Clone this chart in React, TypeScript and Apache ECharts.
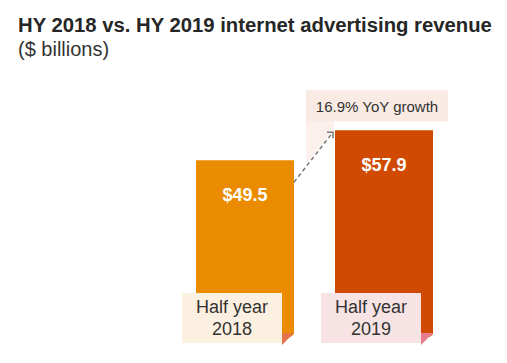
import React, { useEffect, useRef } from "react";
import * as echarts from "echarts";

const categories = ["Half year\n2018", "Half year\n2019"];
const revenue = [49.5, 57.9];
const valueLabels = ["$49.5", "$57.9"];
const barColors = ["#eb8c00", "#d04a02"];
const boxColors = ["#fcf0e1", "#f7e3e4"];
const foldColors = ["#e4734a", "#e77d8c"];
const growthLabel = "16.9% YoY growth";
const titleText = "HY 2018 vs. HY 2019 internet advertising revenue";
const subtitleText = "($ billions)";

const FONT = "'Liberation Sans', Arial, Helvetica, sans-serif";

export default function App() {
  const ref = useRef<HTMLDivElement>(null);
  useEffect(() => {
    if (!ref.current) return;
    const chart = echarts.init(ref.current, undefined, { renderer: "svg" });
    chart.setOption({
      animation: false,
      backgroundColor: "#ffffff",
      grid: { left: 175.5, right: 53.5, top: 87, bottom: 26, containLabel: false },
      xAxis: {
        type: "category",
        data: categories,
        show: false,
      },
      yAxis: { type: "value", min: 0, max: 70, show: false },
      graphic: [
        {
          type: "text",
          left: 18,
          top: 15,
          style: {
            text: titleText,
            font: `bold 20.3px ${FONT}`,
            fill: "#262626",
          },
        },
        {
          type: "text",
          left: 18,
          top: 39,
          style: {
            text: subtitleText,
            font: `20px ${FONT}`,
            fill: "#333333",
          },
        },
      ],
      series: [
        {
          type: "bar",
          barWidth: 98,
          data: revenue.map((v, i) => ({ value: v, itemStyle: { color: barColors[i] } })),
          label: {
            show: true,
            position: ["50%", 35],
            align: "center",
            verticalAlign: "middle",
            formatter: (p: any) => valueLabels[p.dataIndex],
            color: "#ffffff",
            fontWeight: "bold",
            fontSize: 18,
            fontFamily: FONT,
          },
          z: 2,
        },
        {
          type: "custom",
          z: 3,
          data: categories.map((_, i) => [i, 0]),
          renderItem: (params: any, api: any) => {
            const i = params.dataIndex;
            const p = api.coord([api.value(0), 0]);
            const cx = p[0];
            const base = p[1];
            const left = cx - 63;
            const right = cx + 37;
            const top = base - 44;
            const bottom = base + 6;
            return {
              type: "group",
              children: [
                {
                  type: "polygon",
                  shape: { points: [[right + 13, base - 4], [right + 13, base + 9], [right - 1, base + 9]] },
                  style: { fill: "#ffffff" },
                },
                {
                  type: "polygon",
                  shape: { points: [[right, base - 4], [right + 12, base - 4], [right, base + 8]] },
                  style: { fill: foldColors[i] },
                },
                {
                  type: "rect",
                  shape: { x: left, y: top, width: right - left, height: bottom - top },
                  style: { fill: boxColors[i] },
                },
                {
                  type: "text",
                  x: (left + right) / 2,
                  y: (top + bottom) / 2,
                  style: {
                    text: categories[i],
                    align: "center",
                    verticalAlign: "middle",
                    fontSize: 18,
                    lineHeight: 22,
                    fontFamily: FONT,
                    fill: "#333333",
                  },
                },
              ],
            };
          },
        },
        {
          type: "custom",
          z: 4,
          data: [[0, revenue[0], 1, revenue[1]]],
          renderItem: (params: any, api: any) => {
            const a = api.coord([api.value(0), api.value(1)]);
            const b = api.coord([api.value(2), api.value(3)]);
            const halfW = 49;
            const x0 = a[0] + halfW;
            const y0 = a[1] + 22;
            const x1 = b[0] - halfW - 2;
            const y1 = b[1] + 2;
            const bx = b[0] - 78;
            const bRight = b[0] + 64;
            const bTop = b[1] - 40;
            const bBottom = b[1] - 9;
            return {
              type: "group",
              children: [
                {
                  type: "polygon",
                  shape: { points: [[bx, bBottom - 1], [b[0] - 50, bBottom - 1], [b[0] - 50, b[1]], [bx, b[1] + 34]] },
                  style: { fill: "#fbf0ec" },
                },
                {
                  type: "rect",
                  shape: { x: bx, y: bTop, width: bRight - bx, height: bBottom - bTop },
                  style: { fill: "#f9eae4" },
                },
                {
                  type: "text",
                  x: (bx + bRight) / 2,
                  y: (bTop + bBottom) / 2 + 0.5,
                  style: {
                    text: growthLabel,
                    align: "center",
                    verticalAlign: "middle",
                    fontSize: 15,
                    fontFamily: FONT,
                    fill: "#333333",
                  },
                },
                {
                  type: "line",
                  shape: { x1: x0, y1: y0, x2: x1, y2: y1 },
                  style: { stroke: "#7a7a7a", lineWidth: 1.5, lineDash: [4, 3] },
                },
                {
                  type: "polyline",
                  shape: { points: [[x1 - 6, y1], [x1, y1], [x1, y1 + 6]] },
                  style: { stroke: "#7a7a7a", lineWidth: 1.5, fill: null },
                },
              ],
            };
          },
        },
      ],
    });
    return () => chart.dispose();
  }, []);
  return (
    <div
      ref={ref}
      style={{ position: "fixed", left: 0, top: 0, width: 507, height: 363 }}
    />
  );
}
